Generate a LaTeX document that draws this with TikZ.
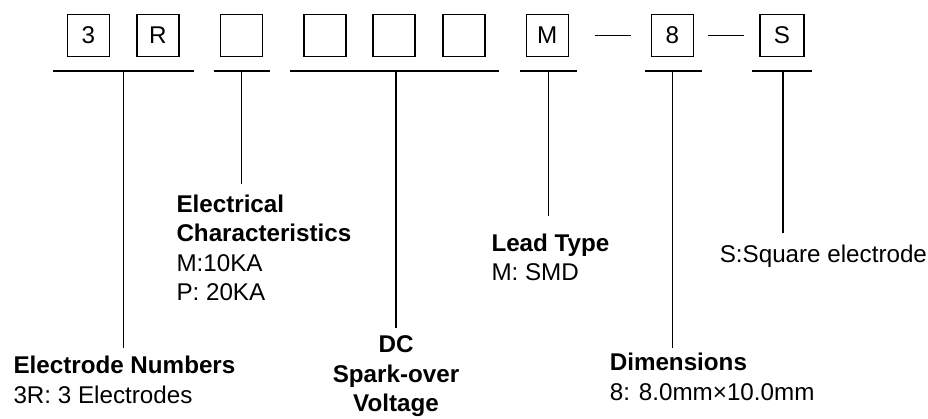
\documentclass[tikz,border=0pt]{standalone}
\usepackage{fontspec}
\setmainfont{Liberation Sans}
\begin{document}
\begin{tikzpicture}[x=1pt,y=-1pt,line width=1.6pt,
  every node/.style={font=\fontsize{24.2}{29.4}\selectfont},
  codebox/.style={draw,line width=1.6pt,minimum width=42pt,minimum height=42pt,inner sep=0pt},
  lbl/.style={anchor=base west,inner sep=0pt,align=left},
  lblc/.style={anchor=base,inner sep=0pt,align=center},
  bar/.style={line width=1.8pt},
  stem/.style={line width=1.5pt}]
\useasboundingbox (0,0) rectangle (928,419);
% code boxes
\node[codebox] (b3) at (88.3,35.5) {3};
\node[codebox] (bR) at (157.8,35.5) {R};
\node[codebox] (bE) at (241.3,35.5) {};
\node[codebox] (bV1) at (324.7,35.5) {};
\node[codebox] (bV2) at (394,35.5) {};
\node[codebox] (bV3) at (464,35.5) {};
\node[codebox] (bM) at (547.3,35.5) {M};
\node[codebox] (b8) at (672.3,35.5) {8};
\node[codebox,minimum width=44pt] (bS) at (782,35.5) {S};
% dashes
\coordinate (d1a) at (595,35.7); \coordinate (d1b) at (631.3,35.7);
\coordinate (d2a) at (708.3,35.7); \coordinate (d2b) at (744,35.7);
\draw[line width=1.4pt] (d1a) -- (d1b);
\draw[line width=1.4pt] (d2a) -- (d2b);
% bars under groups
\coordinate (h1a) at (53.3,70.7); \coordinate (h1b) at (193.7,70.7);
\coordinate (h2a) at (213.7,70.7); \coordinate (h2b) at (270.3,70.7);
\coordinate (h3a) at (290.3,70.7); \coordinate (h3b) at (498.7,70.7);
\coordinate (h4a) at (519.7,70.7); \coordinate (h4b) at (577,70.7);
\coordinate (h5a) at (645,70.7); \coordinate (h5b) at (701.7,70.7);
\coordinate (h6a) at (752.3,70.7); \coordinate (h6b) at (812.3,70.7);
\foreach \i in {1,...,6} \draw[bar] (h\i a) -- (h\i b);
% stems
\coordinate (s1) at (123.7,70.7); \coordinate (e1) at (123.7,348.3);
\coordinate (s2) at (241.7,70.7); \coordinate (e2) at (241.7,184);
\coordinate (s3) at (396,70.7);   \coordinate (e3) at (396,328.3);
\coordinate (s4) at (548.7,70.7); \coordinate (e4) at (548.7,216);
\coordinate (s5) at (672.3,70.7); \coordinate (e5) at (672.3,348.3);
\coordinate (s6) at (783,70.7);   \coordinate (e6) at (783,233.3);
\foreach \i in {1,...,6} \draw[stem] (s\i) -- (e\i);
% labels (anchored at the baseline of their last line)
\node[lbl] (lEN) at (12.7,403.3) {\textbf{Electrode Numbers}\\3R: 3 Electrodes};
\node[lbl] (lEC) at (175.7,300.7) {\textbf{Electrical}\\\textbf{Characteristics}\\M:10KA\\P: 20KA};
\node[lblc] (lDC) at (396,411.7) {\textbf{DC}\\\textbf{Spark-over}\\\textbf{Voltage}};
\node[lbl] (lLT) at (490.7,281) {\textbf{Lead Type}\\M: SMD};
\node[lbl] (lDM) at (609,400) {\textbf{Dimensions}\\8: 8.0mm×10.0mm};
\node[lbl] (lSQ) at (719,262.7) {S:Square electrode};
\end{tikzpicture}
\end{document}
